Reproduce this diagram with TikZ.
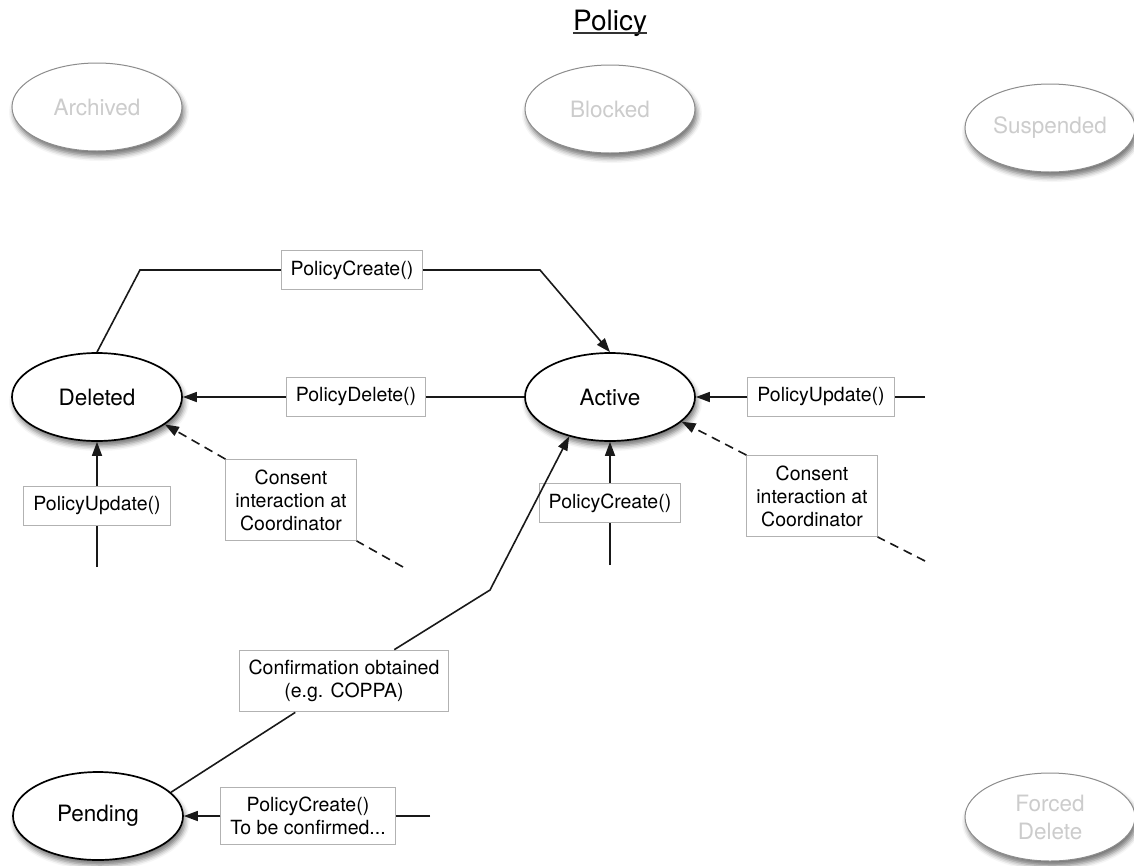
\documentclass[tikz,border=0pt]{standalone}
\usepackage{fontspec}
\setmainfont{TeX Gyre Heros}
\usetikzlibrary{arrows.meta,shapes.geometric,shadows.blur}

\begin{document}
\begin{tikzpicture}[x=1pt,y=-1pt,
  state/.style={ellipse, draw=black, line width=1.7pt, fill=white,
    minimum width=170pt, minimum height=88pt, inner sep=0pt, align=center,
    font=\fontsize{22.5}{28}\selectfont,
    blur shadow={shadow xshift=2pt, shadow yshift=-5pt, shadow blur radius=5pt, shadow opacity=55}},
  ghost/.style={state, draw=black!45, line width=1pt, text=black!20},
  lbl/.style={draw=black!30, line width=0.9pt, fill=white, inner xsep=9.5pt,
    inner ysep=10pt, minimum height=39pt, align=center,
    font=\fontsize{19.5}{23}\selectfont},
  flow/.style={draw=black!90, line width=1.6pt},
  arr/.style={flow, -{Triangle[length=14pt,width=10pt]}},
  dline/.style={flow, dash pattern=on 9pt off 6pt},
  darr/.style={arr, dash pattern=on 9pt off 6pt}]
\useasboundingbox (0,0) rectangle (1134,865);

% heading
\node[inner sep=0pt, anchor=base, font=\fontsize{28}{30}\selectfont] (title) at (610,30) {Policy};
\draw[line width=1.6pt, black!80] ([yshift=-3pt]title.base west) -- ([yshift=-3pt]title.base east);

% states not yet in use
\node[ghost] (archived)  at (97,107)  {Archived};
\node[ghost] (blocked)   at (610,109) {Blocked};
\node[ghost] (suspended) at (1050,128) {Suspended};
\node[ghost] (forced)    at (1050,817) {Forced\\Delete};

% live states
\node[state] (deleted) at (97,397)  {Deleted};
\node[state] (active)  at (610,397) {Active};
\node[state] (pending) at (98,816)  {Pending};

% transition labels
\node[lbl] (pcTop)   at (352,270) {PolicyCreate()};
\node[lbl] (pdel)    at (356,397) {PolicyDelete()};
\node[lbl] (puLeft)  at (97,506)  {PolicyUpdate()};
\node[lbl] (consL)   at (291,500) {Consent\\interaction at\\Coordinator};
\node[lbl] (puRight) at (821,397) {PolicyUpdate()};
\node[lbl] (pcAct)   at (610,503) {PolicyCreate()};
\node[lbl] (consR)   at (812,496) {Consent\\interaction at\\Coordinator};
\node[lbl] (confirm) at (344,681) {Confirmation obtained\\(e.g. COPPA)};
\node[lbl] (pcPend)  at (308,816) {PolicyCreate()\\To be confirmed...};

% bends and loose ends
\coordinate (topL)   at (140,270);
\coordinate (topR)   at (540,270);
\coordinate (confB)  at (490,590);
\coordinate (puRin)  at (925,397);
\coordinate (consRin) at (925,561);
\coordinate (consLin) at (403,567);
\coordinate (puLin)  at (97,567);
\coordinate (pcAin)  at (610,565);
\coordinate (pendIn) at (430,816);

% Deleted -> Active
\draw[flow] (deleted.north) -- (topL) -- (pcTop.west);
\draw[arr] (pcTop.east) -- (topR) -- (active.north);

% Active -> Deleted
\draw[flow] (active.west) -- (pdel.east);
\draw[arr] (pdel.west) -- (deleted.east);

% updates into Deleted
\draw[flow] (puLin) -- (puLeft.south);
\draw[arr] (puLeft.north) -- (deleted.south);
\draw[dline] (consLin) -- (consL.south east);
\draw[darr] (consL.north west) -- (deleted.-22);

% updates into Active
\draw[flow] (puRin) -- (puRight.east);
\draw[arr] (puRight.west) -- (active.east);
\draw[flow] (pcAin) -- (pcAct.south);
\draw[arr] (pcAct.north) -- (active.south);
\draw[dline] (consRin) -- (consR.south east);
\draw[darr] (consR.north west) -- (active.-19);

% Pending -> Active
\draw[flow] (pending.18) -- (confirm);
\draw[arr] (confirm) -- (confB) -- (active.224);

% creation into Pending
\draw[flow] (pendIn) -- (pcPend.east);
\draw[arr] (pcPend.west) -- (pending.east);
\end{tikzpicture}
\end{document}
